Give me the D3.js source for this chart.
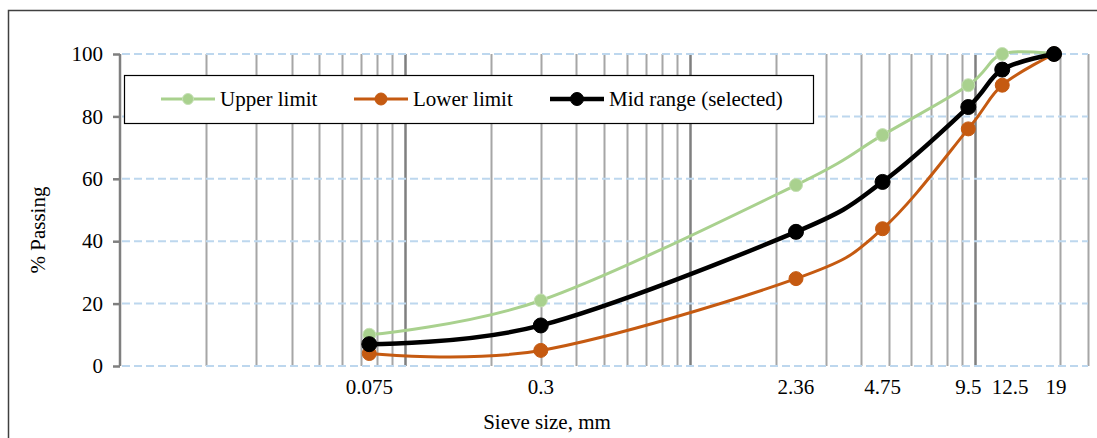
<!DOCTYPE html>
<html>
<head>
<meta charset="utf-8">
<script src="https://cdn.jsdelivr.net/npm/d3@7"></script>
<style>
  body { margin: 0; background: #fff; }
  text { font-family: "Liberation Serif", "Times New Roman", serif; fill: #000; }
</style>
</head>
<body>
<div id="chart"></div>
<script>
// chart data
var sieveSizes = [0.075, 0.3, 2.36, 4.75, 9.5, 12.5, 19];
var upperLimit = [10, 21, 58, 74, 90, 100, 100];
var lowerLimit = [4, 5, 28, 44, 76, 90, 100];
var midRange = [7, 13, 43, 59, 83, 95, 100];
var yTicks = [0, 20, 40, 60, 80, 100];
var seriesNames = ["Upper limit", "Lower limit", "Mid range (selected)"];

var svgWidth = 1097;
var svgHeight = 438;

var margin = { top: 54, right: 9, bottom: 72, left: 120 };
var width = 1088 - margin.left;
var height = 366 - margin.top;

var svg = d3.select("#chart")
  .append("svg")
  .attr("width", svgWidth)
  .attr("height", svgHeight);

// outer border
svg.append("rect")
  .attr("x", 8.5)
  .attr("y", 10.5)
  .attr("width", 1100)
  .attr("height", 440)
  .attr("fill", "none")
  .attr("stroke", "#404040")
  .attr("stroke-width", 1.5);

var chartGroup = svg.append("g")
  .attr("transform", `translate(${margin.left}, ${margin.top})`);

var xScale = d3.scaleLog()
  .domain([0.01, 25])
  .range([0, width]);

var yScale = d3.scaleLinear()
  .domain([0, 100])
  .range([height, 0]);

// vertical log gridlines
var minorTicks = [];
[0.01, 0.1, 1, 10].forEach(function(dec) {
  for (var k = 2; k <= 9; k++) {
    if (dec * k < 25) minorTicks.push(dec * k);
  }
});
var majorTicks = [0.1, 1, 10];

chartGroup.selectAll(".vminor")
  .data(minorTicks.concat([25]))
  .enter()
  .append("line")
  .attr("class", "vminor")
  .attr("x1", d => Math.round(xScale(d)) + 0.5)
  .attr("x2", d => Math.round(xScale(d)) + 0.5)
  .attr("y1", 0)
  .attr("y2", height)
  .attr("stroke", "#a6a6a6")
  .attr("stroke-width", 2);

chartGroup.selectAll(".vmajor")
  .data(majorTicks)
  .enter()
  .append("line")
  .attr("class", "vmajor")
  .attr("x1", d => Math.round(xScale(d)) + 0.5)
  .attr("x2", d => Math.round(xScale(d)) + 0.5)
  .attr("y1", 0)
  .attr("y2", height)
  .attr("stroke", "#7f7f7f")
  .attr("stroke-width", 2.5);

// horizontal dashed gridlines
chartGroup.selectAll(".hgrid")
  .data(yTicks)
  .enter()
  .append("line")
  .attr("class", "hgrid")
  .attr("x1", 2)
  .attr("x2", width)
  .attr("y1", d => yScale(d))
  .attr("y2", d => yScale(d))
  .attr("stroke", "#bdd7ee")
  .attr("stroke-width", 2)
  .attr("stroke-dasharray", "8,4");

// y axis
var leftAxis = d3.axisLeft(yScale)
  .tickValues(yTicks)
  .tickSize(7)
  .tickPadding(10);

var yAxis = chartGroup.append("g")
  .call(leftAxis);
yAxis.select(".domain")
  .attr("stroke", "#7f7f7f")
  .attr("stroke-width", 2.5)
  .attr("d", `M0,${height}V0`);
yAxis.selectAll(".tick line")
  .attr("stroke", "#7f7f7f")
  .attr("stroke-width", 2.5);
yAxis.selectAll(".tick text")
  .style("font-family", "'Liberation Serif', 'Times New Roman', serif")
  .style("font-size", "21px")
  .attr("fill", "#000");

// x tick labels at the sieve sizes
var labelShift = { "12.5": 8, "19": 2 };
chartGroup.selectAll(".xlab")
  .data(sieveSizes)
  .enter()
  .append("text")
  .attr("class", "xlab")
  .attr("x", d => xScale(d) + (labelShift[d] || 0))
  .attr("y", height + 28)
  .attr("text-anchor", "middle")
  .style("font-size", "21px")
  .text(d => d);

// axis titles
svg.append("text")
  .attr("x", 547)
  .attr("y", 429)
  .attr("text-anchor", "middle")
  .style("font-size", "21px")
  .text("Sieve size, mm");

svg.append("text")
  .attr("transform", "translate(45, 230) rotate(-90)")
  .attr("text-anchor", "middle")
  .style("font-size", "21px")
  .text("% Passing");

// series
var series = [
  { name: seriesNames[0], values: upperLimit, color: "#a9d18e", marker: "#a9d18e", stroke: "#c5e0b4", width: 3, r: 6.5 },
  { name: seriesNames[1], values: lowerLimit, color: "#c55a11", marker: "#c55a11", stroke: "#c55a11", width: 3, r: 7 },
  { name: seriesNames[2], values: midRange, color: "#000000", marker: "#000000", stroke: "#000000", width: 4.5, r: 7.5 }
];

var line = d3.line()
  .x(d => xScale(d[0]))
  .y(d => yScale(d[1]))
  .curve(d3.curveCatmullRom.alpha(0));

series.forEach(function(s) {
  var pts = sieveSizes.map((x, i) => [x, s.values[i]]);
  chartGroup.append("path")
    .datum(pts)
    .attr("d", line)
    .attr("fill", "none")
    .attr("stroke", s.color)
    .attr("stroke-width", s.width)
    .attr("stroke-linejoin", "round");

  chartGroup.selectAll(null)
    .data(pts)
    .enter()
    .append("circle")
    .attr("cx", d => xScale(d[0]))
    .attr("cy", d => yScale(d[1]))
    .attr("r", s.r)
    .attr("fill", s.marker)
    .attr("stroke", s.stroke)
    .attr("stroke-width", 1);
});

// legend
var legend = svg.append("g");
legend.append("rect")
  .attr("x", 124.5)
  .attr("y", 75.5)
  .attr("width", 689)
  .attr("height", 48)
  .attr("fill", "#fff")
  .attr("stroke", "#000")
  .attr("stroke-width", 1.2);

var legendX = [161, 354, 550];
series.forEach(function(s, i) {
  var g = legend.append("g")
    .attr("transform", `translate(${legendX[i]}, 99)`);
  g.append("line")
    .attr("x1", 0)
    .attr("x2", 54)
    .attr("y1", 0)
    .attr("y2", 0)
    .attr("stroke", s.color)
    .attr("stroke-width", s.width);
  g.append("circle")
    .attr("cx", 27)
    .attr("cy", 0)
    .attr("r", s.r - 1)
    .attr("fill", s.marker)
    .attr("stroke", s.stroke);
  g.append("text")
    .attr("x", 59)
    .attr("y", 7)
    .style("font-size", "21px")
    .text(s.name);
});
</script>
</body>
</html>
